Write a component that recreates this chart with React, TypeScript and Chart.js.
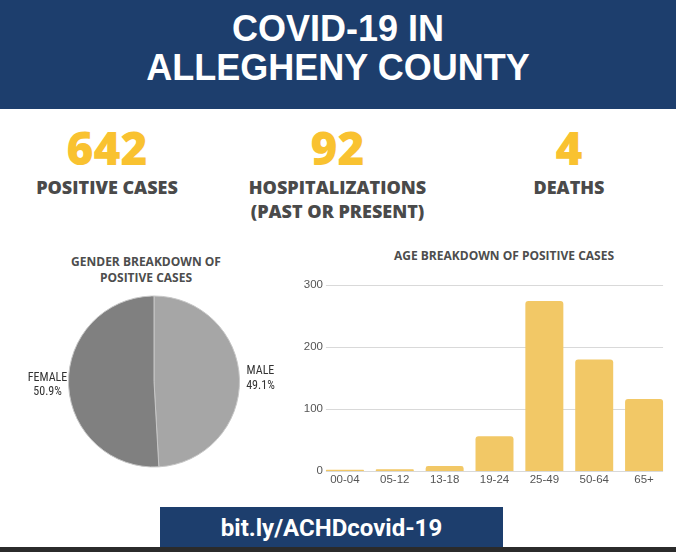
import React, { useEffect, useRef } from "react";
import { Chart, registerables } from "chart.js";

Chart.register(...registerables);

// ---- data ----
const headline = ["COVID-19 IN", "ALLEGHENY COUNTY"];
const statValues = ["642", "92", "4"];
const statLabels = [["POSITIVE CASES"], ["HOSPITALIZATIONS", "(PAST OR PRESENT)"], ["DEATHS"]];
const genderTitle = ["GENDER BREAKDOWN OF", "POSITIVE CASES"];
const genderLabels = ["MALE", "FEMALE"];
const genderShares = [49.1, 50.9];
const ageTitle = "AGE BREAKDOWN OF POSITIVE CASES";
const ageGroups = ["00-04", "05-12", "13-18", "19-24", "25-49", "50-64", "65+"];
const ageCases = [2, 3, 8, 56, 274, 180, 116];
const ageTicks = [0, 100, 200, 300];
const footerLink = "bit.ly/ACHDcovid-19";

const NAVY = "#1d3e6d";
const YELLOW = "#f9c230";
const BAR = "#f2c866";
const DARK = "#4a4a4a";
const TICK_FONT = '11.5px "Liberation Sans", Arial, sans-serif';

const pieLabelPlugin = {
  id: "pieLabels",
  afterDatasetsDraw(chart: any) {
    const ctx = chart.ctx;
    const meta = chart.getDatasetMeta(0);
    const data = chart.data.datasets[0].data as number[];
    const total = data.reduce((a, b) => a + b, 0);
    ctx.save();
    ctx.fillStyle = "#333";
    ctx.font = '12px "Liberation Sans Narrow", "Roboto Condensed", Roboto, sans-serif';
    ctx.textAlign = "center";
    ctx.textBaseline = "middle";
    meta.data.forEach((arc: any, i: number) => {
      const mid = (arc.startAngle + arc.endAngle) / 2;
      const r = arc.outerRadius + 21;
      const x = arc.x + Math.cos(mid) * r;
      const y = arc.y + Math.sin(mid) * r;
      ctx.fillText(String(chart.data.labels[i]), x, y - 7);
      ctx.fillText(((data[i] / total) * 100).toFixed(1) + "%", x, y + 7.5);
    });
    ctx.restore();
  },
};

const barGridPlugin = {
  id: "barGrid",
  beforeDatasetsDraw(chart: any) {
    const ctx = chart.ctx;
    const meta = chart.getDatasetMeta(0);
    const first = meta.data[0];
    const last = meta.data[meta.data.length - 1];
    const x0 = first.x - first.width / 2;
    const x1 = last.x + last.width / 2;
    const ys = chart.scales.y;
    ctx.save();
    ctx.strokeStyle = "#d9d9d9";
    ctx.lineWidth = 1;
    ys.ticks.forEach((t: any) => {
      const py = Math.round(ys.getPixelForValue(t.value)) + 0.5;
      ctx.beginPath();
      ctx.moveTo(x0, py);
      ctx.lineTo(x1, py);
      ctx.stroke();
    });
    // y tick labels (right-aligned slightly inside the plot edge, as in the reference)
    ctx.fillStyle = "#555";
    ctx.font = TICK_FONT;
    ctx.textAlign = "right";
    ctx.textBaseline = "middle";
    ys.ticks.forEach((t: any) => {
      const py = ys.getPixelForValue(t.value);
      ctx.fillText(String(t.value), x0 - 3, py);
    });
    ctx.restore();
  },
};

function PieChart() {
  const ref = useRef<HTMLCanvasElement>(null);
  useEffect(() => {
    const chart = new Chart(ref.current!, {
      type: "pie",
      data: {
        labels: genderLabels,
        datasets: [
          {
            data: genderShares,
            backgroundColor: ["#a6a6a6", "#808080"],
            borderColor: "#c6c6c6",
            borderWidth: 1,
          },
        ],
      },
      options: {
        animation: false,
        responsive: false,
        devicePixelRatio: 1,
        layout: { padding: { left: 48, right: 48, top: 3.5, bottom: 4.5 } },
        plugins: { legend: { display: false }, tooltip: { enabled: false } },
      },
      plugins: [pieLabelPlugin],
    });
    return () => chart.destroy();
  }, []);
  return <canvas ref={ref} width={268} height={180} style={{ position: "absolute", left: 20, top: 292 }} />;
}

function BarChart() {
  const ref = useRef<HTMLCanvasElement>(null);
  useEffect(() => {
    const tickFont = { family: '"Liberation Sans", Arial, sans-serif', size: 11.5 };
    const chart = new Chart(ref.current!, {
      type: "bar",
      data: {
        labels: ageGroups,
        datasets: [
          {
            data: ageCases,
            backgroundColor: BAR,
            borderRadius: { topLeft: 3, topRight: 3, bottomLeft: 0, bottomRight: 0 },
            borderSkipped: "start",
            categoryPercentage: 1,
            barPercentage: 0.762,
          },
        ],
      },
      options: {
        animation: false,
        responsive: false,
        devicePixelRatio: 1,
        layout: { padding: { top: 15, right: 7, left: 0, bottom: 0 } },
        plugins: { legend: { display: false }, tooltip: { enabled: false } },
        scales: {
          x: {
            grid: { display: false, drawTicks: false },
            border: { display: false },
            ticks: { color: "#555", font: tickFont, padding: 2, maxRotation: 0 },
            afterFit: (s: any) => {
              s.height = 29;
            },
          },
          y: {
            min: ageTicks[0],
            max: ageTicks[ageTicks.length - 1],
            grid: { display: false, drawTicks: false },
            border: { display: false },
            ticks: { stepSize: ageTicks[1] - ageTicks[0], display: false },
            afterFit: (s: any) => {
              s.width = 30;
            },
          },
        },
      },
      plugins: [barGridPlugin],
    });
    return () => chart.destroy();
  }, []);
  return <canvas ref={ref} width={386} height={230} style={{ position: "absolute", left: 290, top: 270 }} />;
}

const statCenters = [107, 337.5, 569];

export default function App() {
  return (
    <div style={{ position: "absolute", left: 0, top: 0, width: 676, height: 552, background: "#fff", overflow: "hidden" }}>
      <div style={{ position: "absolute", left: 0, top: 0, width: 676, height: 109, background: NAVY }} />
      <div
        style={{
          position: "absolute",
          left: 0,
          top: 9,
          width: 676,
          textAlign: "center",
          color: "#fff",
          fontFamily: '"Liberation Sans", Arial, sans-serif',
          fontWeight: 700,
          fontSize: 36,
          lineHeight: "39px",
        }}
      >
        {headline.map((l) => (
          <div key={l}>{l}</div>
        ))}
      </div>

      {statValues.map((v, i) => (
        <React.Fragment key={v}>
          <div
            style={{
              position: "absolute",
              left: statCenters[i] - 130,
              width: 260,
              top: 124,
              textAlign: "center",
              color: YELLOW,
              fontFamily: '"Open Sans", sans-serif',
              fontWeight: 800,
              fontSize: 46,
              lineHeight: "46px",
            }}
          >
            {v}
          </div>
          <div
            style={{
              position: "absolute",
              left: statCenters[i] - 130,
              width: 260,
              top: 175,
              textAlign: "center",
              color: DARK,
              fontFamily: '"Open Sans", sans-serif',
              fontWeight: 800,
              fontSize: 18,
              lineHeight: "24px",
            }}
          >
            {statLabels[i].map((l) => (
              <div key={l}>{l}</div>
            ))}
          </div>
        </React.Fragment>
      ))}

      <div
        style={{
          position: "absolute",
          left: 26,
          width: 240,
          top: 254,
          textAlign: "center",
          color: "#4d4d4d",
          fontFamily: '"Open Sans", sans-serif',
          fontWeight: 700,
          fontSize: 12,
          lineHeight: "16px",
        }}
      >
        {genderTitle.map((l) => (
          <div key={l}>{l}</div>
        ))}
      </div>
      <div
        style={{
          position: "absolute",
          left: 354,
          width: 300,
          top: 248,
          textAlign: "center",
          color: "#4d4d4d",
          fontFamily: '"Open Sans", sans-serif',
          fontWeight: 700,
          fontSize: 12,
          lineHeight: "16px",
        }}
      >
        {ageTitle}
      </div>

      <PieChart />
      <BarChart />

      <div style={{ position: "absolute", left: 160, top: 507, width: 343, height: 45, background: NAVY }} />
      <div
        style={{
          position: "absolute",
          left: 160,
          top: 516,
          width: 343,
          textAlign: "center",
          color: "#fff",
          fontFamily: "Roboto, sans-serif",
          fontWeight: 700,
          fontSize: 24,
          lineHeight: "24px",
        }}
      >
        {footerLink}
      </div>
      <div style={{ position: "absolute", left: 0, top: 547, width: 676, height: 5, background: "#2b2b2b" }} />
    </div>
  );
}
